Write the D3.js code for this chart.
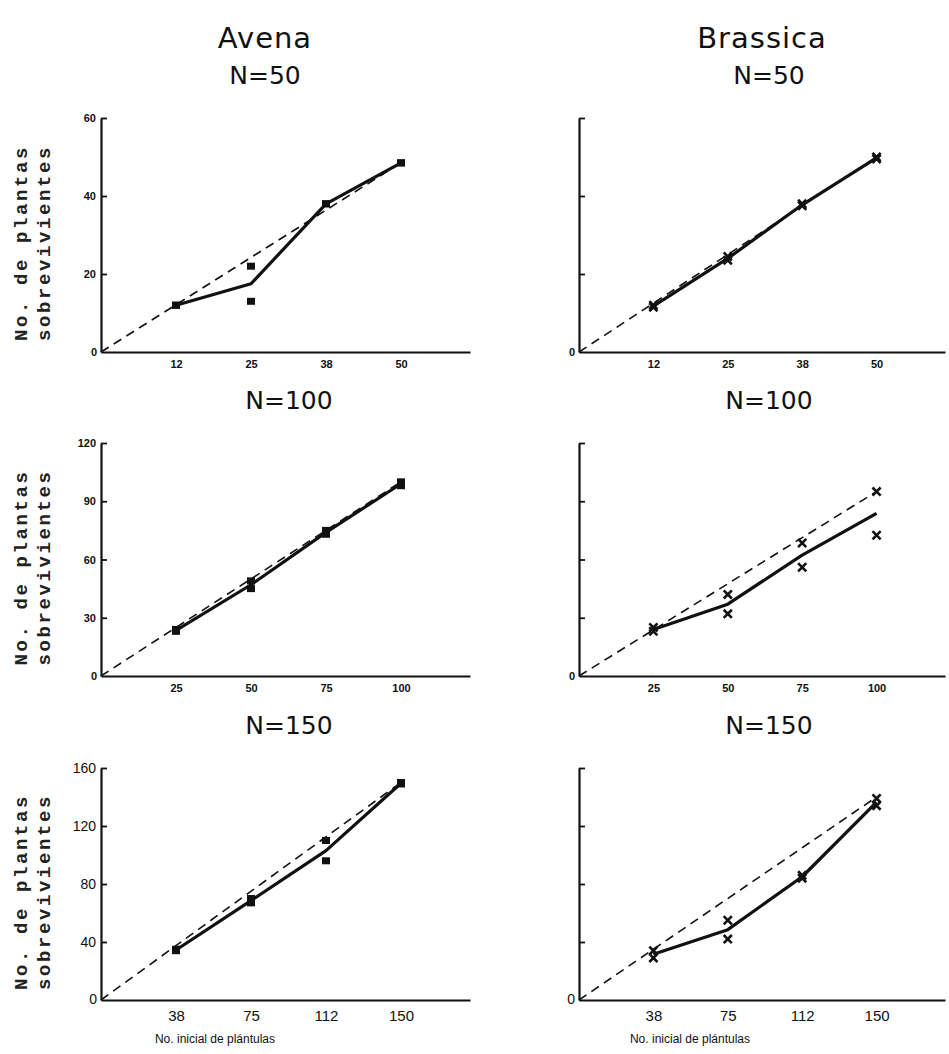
<!DOCTYPE html>
<html><head><meta charset="utf-8">
<script src="https://cdn.jsdelivr.net/npm/d3@7"></script>
<style>body{margin:0;background:#fff}</style>
</head><body><svg id="c" width="949" height="1054"></svg>
<script>
// ---------- data ----------
const species = ["Avena", "Brassica"];
const densities = ["N=50", "N=100", "N=150"];
const xValues50 = [12.5, 25, 37.5, 50];
const xLabels50 = ["12", "25", "38", "50"];
const xValues100 = [25, 50, 75, 100];
const xLabels100 = ["25", "50", "75", "100"];
const xValues150 = [37.5, 75, 112.5, 150];
const xLabels150 = ["38", "75", "112", "150"];
const yTicks50 = [0, 20, 40, 60];
const yTicks100 = [0, 30, 60, 90, 120];
const yTicks150 = [0, 40, 80, 120, 160];
const xDomainMax = [61.5, 123, 184.5];
// replicate survivors
const avena50A = [12, 22, 38, 48.5];
const avena50B = [12, 13, 38, 48.5];
const avena100A = [24, 49, 75, 100];
const avena100B = [23, 45, 73, 98];
const avena150A = [35, 70, 110, 150];
const avena150B = [34, 67, 96, 149];
const brassica50A = [12, 24.5, 38, 50];
const brassica50B = [11.5, 23.5, 37.5, 49.5];
const brassica100A = [25, 42, 68.5, 95];
const brassica100B = [23, 32, 56, 72.5];
const brassica150A = [34, 55, 86, 139];
const brassica150B = [29, 42, 84, 134];
// end of the dashed reference line at the largest density
const avenaExpected = [48.5, 100, 150];
const brassicaExpected = [50, 95, 140];
const yTitle1 = "No. de plantas";
const yTitle2 = "sobrevivientes";
const xTitle = "No. inicial de plántulas";

// ---------- layout ----------
const svg = d3.select("#c");
const colX = [[101, 470], [579, 945]];
const rowY = [[118, 352], [443, 676], [768, 1000]];
const colCenter = [289, 769];
const speciesCenter = [265, 762];
const topTitleCenter = [265, 769];
const xTitleCenter = [215, 690];
const titleFont = "'DejaVu Sans','Noto Sans',sans-serif";
const tickFont = "'Liberation Sans Narrow','Liberation Sans',Arial,sans-serif";

const xVals = [xValues50, xValues100, xValues150];
const xLabs = [xLabels50, xLabels100, xLabels150];
const yTicks = [yTicks50, yTicks100, yTicks150];
const dataSets = [
  [[avena50A, avena50B], [avena100A, avena100B], [avena150A, avena150B]],
  [[brassica50A, brassica50B], [brassica100A, brassica100B], [brassica150A, brassica150B]]
];
const expected = [avenaExpected, brassicaExpected];

// species titles
species.forEach((s, c) => {
  svg.append("text").attr("x", speciesCenter[c]).attr("y", 48)
    .attr("text-anchor", "middle").attr("font-family", titleFont)
    .attr("font-size", 29).attr("letter-spacing", 1).attr("fill", "#111").text(s);
});

for (let c = 0; c < 2; c++) {
  for (let r = 0; r < 3; r++) {
    const [x0, x1] = colX[c];
    const [top, bot] = rowY[r];
    const ticks = yTicks[r];
    const x = d3.scaleLinear().domain([0, xDomainMax[r]]).range([x0, x1]);
    const y = d3.scaleLinear().domain([0, ticks[ticks.length - 1]]).range([bot, top]);
    const g = svg.append("g");
    const big = r === 2;

    // density title
    svg.append("text").attr("x", r === 0 ? topTitleCenter[c] : colCenter[c]).attr("y", top - 34)
      .attr("text-anchor", "middle").attr("font-family", titleFont)
      .attr("font-size", 25).attr("fill", "#111").text(densities[r]);

    // y axis
    const ya = g.append("g").attr("transform", `translate(${x0},0)`)
      .call(d3.axisLeft(y).tickValues(ticks.slice(1)).tickSizeInner(-6).tickSizeOuter(0)
        .tickPadding(5).tickFormat(d => c === 0 ? d : ""));
    ya.select(".domain").attr("stroke", "#111").attr("stroke-width", 2.2);
    ya.selectAll(".tick line").attr("stroke", "#111").attr("stroke-width", 1.8);
    ya.selectAll(".tick text").attr("font-family", tickFont)
      .attr("font-weight", big ? "normal" : "bold").attr("font-size", big ? 14 : 11)
      .attr("fill", "#111").attr("x", -5);

    // x axis
    const xa = g.append("g").attr("transform", `translate(0,${bot})`)
      .call(d3.axisBottom(x).tickValues(xVals[r]).tickSize(0).tickSizeOuter(0)
        .tickPadding(big ? 10 : 8).tickFormat((d, i) => xLabs[r][i]));
    xa.select(".domain").attr("stroke", "#111").attr("stroke-width", 2.2);
    xa.selectAll(".tick text").attr("font-family", tickFont)
      .attr("font-weight", big ? "normal" : "bold").attr("font-size", big ? 15 : 11)
      .attr("fill", "#111");

    // zero label
    g.append("text").attr("x", x0 - 4).attr("y", bot + 4).attr("text-anchor", "end")
      .attr("font-family", tickFont).attr("font-weight", big ? "normal" : "bold")
      .attr("font-size", big ? 14 : 11).attr("fill", "#111").text("0");

    // dashed reference line
    const xs = xVals[r];
    const xmax = xs[xs.length - 1];
    g.append("path")
      .attr("d", d3.line().x(d => x(d[0])).y(d => y(d[1]))([[0, 0], [xmax, expected[c][r]]]))
      .attr("fill", "none").attr("stroke", "#111").attr("stroke-width", 1.6)
      .attr("stroke-dasharray", "9,6");

    // mean solid line
    const [ra, rb] = dataSets[c][r];
    const means = xs.map((v, i) => [v, (ra[i] + rb[i]) / 2]);
    g.append("path").attr("d", d3.line().x(d => x(d[0])).y(d => y(d[1]))(means))
      .attr("fill", "none").attr("stroke", "#111").attr("stroke-width", 3.2)
      .attr("stroke-linejoin", "round");

    // replicate markers
    const pts = [];
    xs.forEach((v, i) => { pts.push([v, ra[i]]); pts.push([v, rb[i]]); });
    if (c === 0) {
      g.selectAll("rect.m").data(pts).join("rect")
        .attr("x", d => x(d[0]) - 4).attr("y", d => y(d[1]) - 3.5)
        .attr("width", 8).attr("height", 7).attr("fill", "#111");
    } else {
      const sym = d3.symbol().type(d3.symbolTimes).size(45);
      g.selectAll("path.m").data(pts).join("path")
        .attr("transform", d => `translate(${x(d[0])},${y(d[1])})`)
        .attr("d", sym).attr("fill", "none").attr("stroke", "#111").attr("stroke-width", 2.6);
    }

    // y-axis title (left column only)
    if (c === 0) {
      const cy = (top + bot) / 2 + 8;
      [[yTitle1, 27], [yTitle2, 50]].forEach(([t, bx]) => {
        svg.append("text").attr("transform", `translate(${bx},${cy}) rotate(-90)`)
          .attr("text-anchor", "middle").attr("font-family", "'Liberation Mono','DejaVu Sans Mono',monospace")
          .attr("font-weight", "bold").attr("font-size", 19).attr("letter-spacing", 2.6)
          .attr("fill", "#222").text(t);
      });
    }

    // x-axis title on bottom row
    if (r === 2) {
      svg.append("text").attr("x", xTitleCenter[c]).attr("y", 1043)
        .attr("text-anchor", "middle").attr("font-family", tickFont)
        .attr("font-size", 12).attr("fill", "#111").text(xTitle);
    }
  }
}
</script></body></html>
